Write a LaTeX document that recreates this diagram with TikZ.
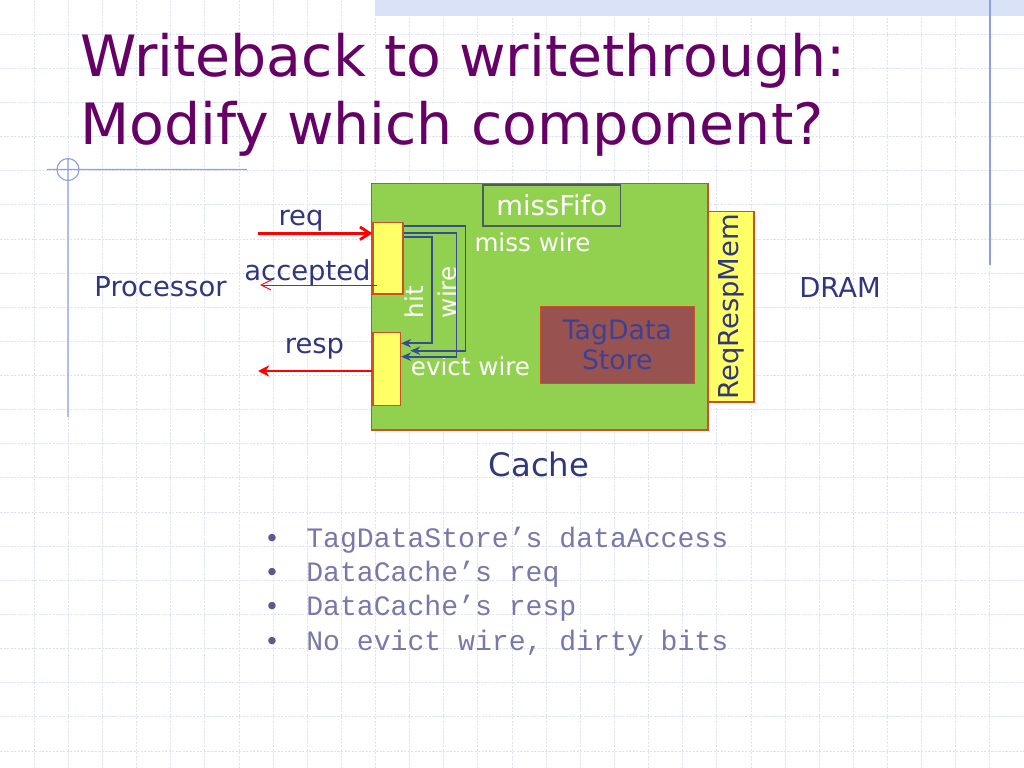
\documentclass[tikz,border=0pt]{standalone}
\usepackage{fontspec}
\setmainfont{DejaVu Sans}
\newfontfamily\monofnt{Liberation Mono}
\usetikzlibrary{arrows.meta}
\definecolor{slidepurple}{RGB}{102,0,102}
\definecolor{inkblue}{RGB}{50,55,125}
\definecolor{storeink}{RGB}{60,65,150}
\definecolor{cachegreen}{RGB}{146,208,80}
\definecolor{edgered}{RGB}{204,80,40}
\definecolor{portyellow}{RGB}{255,255,102}
\definecolor{storebrown}{RGB}{152,82,80}
\definecolor{fifogray}{RGB}{75,95,90}
\definecolor{wireblue}{RGB}{55,75,150}
\definecolor{gridblue}{RGB}{222,226,246}
\definecolor{rulerblue}{RGB}{140,160,225}
\definecolor{bandblue}{RGB}{218,226,248}
\definecolor{itemgray}{RGB}{120,120,170}
\definecolor{dotgray}{RGB}{90,90,140}

\begin{document}
\begin{tikzpicture}[x=0.025cm,y=-0.025cm,blk/.style={draw=edgered,line width=.8pt,inner sep=0pt},lbl/.style={text=inkblue,font=\fontsize{19.5}{23}\selectfont,inner sep=0pt},wlbl/.style={text=white,font=\fontsize{17.5}{21}\selectfont,inner sep=0pt},wire/.style={-{Stealth[length=7pt,width=6pt]},draw=wireblue,line width=1.2pt},sig/.style={draw=red,line width=2pt},gridln/.style={draw=gridblue,line width=.6pt,dash pattern=on 1.5pt off 1pt}]

\useasboundingbox (0,0) rectangle (1024,768);
\fill[white] (0,0) rectangle (1024,768);
\foreach \i in {1,...,29} \draw[gridln] (\i*34.133,0) -- (\i*34.133,768);
\foreach \j in {1,...,22} \draw[gridln] (0,\j*34.133) -- (1024,\j*34.133);
\fill[bandblue] (375,0) rectangle (1024,16);
\draw[rulerblue,line width=1pt] (990,0) -- (990,265);
\draw[rulerblue,line width=.8pt] (47,169.5) -- (247,169.5) (68,158) -- (68,417) (68,169.5) circle[radius=.275cm];

\node[anchor=base west,inner sep=0pt,text=slidepurple,font=\fontsize{40.5}{48}\selectfont] (title) at (80,77) {Writeback to writethrough:};
\node[anchor=base west,inner sep=0pt,text=slidepurple,font=\fontsize{40.5}{48}\selectfont] (title2) at (80,145) {Modify which component?};

\node[blk,fill=cachegreen,minimum width=8.41cm,minimum height=6.16cm] (cache) at (539.75,306.75) {};
\node[draw=fifogray,line width=.8pt,inner sep=0pt,minimum width=3.44cm,minimum height=1.025cm,text=white,font=\fontsize{19.5}{23}\selectfont] (missfifo) at (551.75,205.5) {missFifo};
\node[blk,fill=storebrown,minimum width=3.85cm,minimum height=1.915cm,align=center,text=storeink,font=\fontsize{19}{21.3}\selectfont] (tagdata) at (617.3,345) {TagData\\Store};
\node[blk,fill=portyellow,lbl,rotate=90,minimum width=4.76cm,minimum height=1.15cm] (reqresp) at (731,306.75) {ReqRespMem};
\node[blk,fill=portyellow,minimum width=.75cm,minimum height=1.78cm] (inport) at (388,258.35) {};
\node[blk,fill=portyellow,minimum width=.69cm,minimum height=1.81cm] (outport) at (386.85,368.85) {};

\node[lbl,anchor=base] (reqlbl) at (301,225) {req};
\node[lbl,anchor=base] (acclbl) at (307.5,280) {accepted};
\node[lbl,anchor=base] (resplbl) at (314.5,353) {resp};
\node[lbl,anchor=base] (cpu) at (160.5,296.7) {Processor};
\node[lbl,anchor=base] (dram) at (840,297.3) {DRAM};
\node[lbl,anchor=base,font=\fontsize{23}{27}\selectfont] (cachelbl) at (539,476.7) {Cache};
\node[wlbl,anchor=base] (misswire) at (532.5,251.7) {miss wire};
\node[wlbl,anchor=base] (evictwire) at (470.5,375.5) {evict wire};
\node[wlbl,anchor=base west,rotate=90] (hitlbl) at (423,318.3) {hit};
\node[wlbl,anchor=base west,rotate=90] (wirelbl) at (456,318.3) {wire};

\draw[wire] (inport.east |- 0,236.7) -- ++(28.7,0) |- (outport.east |- 0,343.3);
\draw[wire] (inport.east |- 0,232.7) -- ++(53,0) |- (outport.east |- 0,356.7);
\draw[wire,shorten >=6.5pt] (inport.east |- 0,226) -- ++(62,0) |- (outport.east |- 0,350.7);

\coordinate (reqsrc) at (258,233.3);
\coordinate (accdst) at (260,285);
\coordinate (respdst) at (258,371);
\draw[sig,-{Straight Barb[length=7pt,width=9pt]}] (reqsrc) -- (inport.west |- reqsrc);
\draw[draw=red,line width=.7pt,-{Straight Barb[length=7pt,width=7pt]},shorten <=-3.4pt] (inport.west |- accdst) -- (accdst);
\draw[sig,-{Stealth[length=8pt,width=8pt]}] (outport.west |- respdst) -- (respdst);

\foreach \t [count=\k] in {TagDataStore’s dataAccess,DataCache’s req,DataCache’s resp,{No evict wire, dirty bits}} {
\node[anchor=base,text=dotgray,font=\fontsize{18}{20}\selectfont,inner sep=0pt] (dot\k) at (272,547.5+34.2*\k-34.2) {•};
\node[anchor=base west,text=itemgray,font=\monofnt\fontsize{20}{24}\selectfont,inner sep=0pt] (item\k) at (306,547.5+34.2*\k-34.2) {\t};
}
\end{tikzpicture}
\end{document}
